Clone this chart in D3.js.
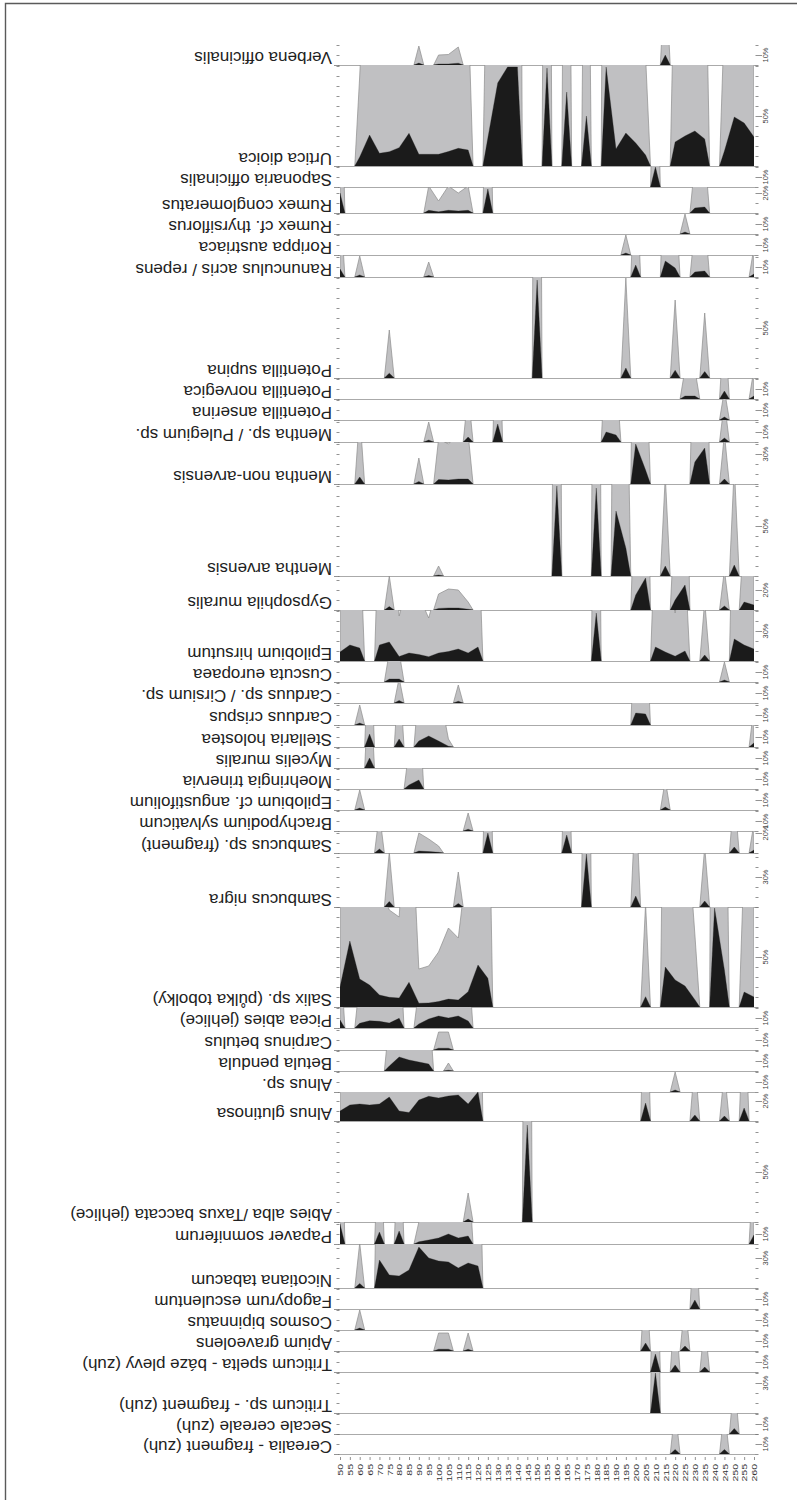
<!DOCTYPE html>
<html>
<head>
<meta charset="utf-8">
<script src="https://cdn.jsdelivr.net/npm/d3@7"></script>
<style>
  body { margin: 0; background: #fff; }
  svg { display: block; }
</style>
</head>
<body>
<svg id="chart" width="797" height="1500"></svg>
<script>
// Depth axis tick labels
const depthTicks = [50, 55, 60, 65, 70, 75, 80, 85, 90, 95, 100, 105, 110, 115, 120, 125,
  130, 135, 140, 145, 150, 155, 160, 165, 170, 175, 180, 185, 190, 195, 200, 205, 210,
  215, 220, 225, 230, 235, 240, 245, 250, 255, 260];

// Taxa, top to bottom
const taxa = [
  "Verbena officinalis", "Urtica dioica", "Saponaria officinalis", "Rumex conglomeratus",
  "Rumex cf. thyrsiflorus", "Rorippa austriaca", "Ranunculus acris / repens", "Potentilla supina",
  "Potentilla norvegica", "Potentilla anserina", "Mentha sp. / Pulegium sp.", "Mentha non-arvensis",
  "Mentha arvensis", "Gypsophila muralis", "Epilobium hirsutum", "Cuscuta europaea",
  "Carduus sp. / Cirsium sp.", "Carduus crispus", "Stellaria holostea", "Mycelis muralis",
  "Moehringia trinervia", "Epilobium cf. angustifolium", "Brachypodium sylvaticum",
  "Sambucus sp. (fragment)", "Sambucus nigra", "Salix sp. (půlka tobolky)", "Picea abies (jehlice)",
  "Carpinus betulus", "Betula pendula", "Alnus sp.", "Alnus glutinosa",
  "Abies alba /Taxus baccata (jehlice)", "Papaver somniferum", "Nicotiana tabacum",
  "Fagopyrum esculentum", "Cosmos bipinnatus", "Apium graveolens",
  "Triticum spelta - báze plevy (zuh)", "Triticum sp. - fragment (zuh)", "Secale cereale (zuh)",
  "Cerealia - fragment (zuh)"
];

// Percentage range of each taxon's column
const rangeMax = [20, 101, 21, 26, 21, 21, 22, 101, 21, 21, 22, 42, 92, 34, 51, 21, 21, 22, 22, 21,
  21, 21, 21, 22, 54, 100, 21, 22, 21, 21, 29, 101, 22, 44, 21, 21, 21, 21, 41, 21, 20];

// Labelled scale tick (%) of each column
const labelTick = [10, 50, 10, 20, 10, 10, 10, 50, 10, 10, 10, 30, 50, 20, 30, 10, 10, 10, 10, 10,
  10, 10, 10, 20, 30, 50, 10, 10, 10, 10, 20, 50, 10, 30, 10, 10, 10, 10, 30, 10, 10];

// Occurrences: [depth, percent]; depths not listed are zero
const verbena = [[90, 1.9], [100, 1.0], [105, 1.05], [110, 1.8], [215, 10]];
const urtica = [[60, 9], [65, 31], [70, 12.7], [75, 14.3], [80, 18.3], [85, 32.7], [90, 11.7],
  [95, 11.7], [100, 11.7], [105, 14.5], [110, 17.7], [115, 16], [125, 28], [130, 83], [135, 99],
  [140, 99], [155, 98], [165, 74], [175, 50], [185, 99], [190, 17], [195, 33], [200, 23], [205, 11],
  [220, 24], [225, 30], [230, 35], [235, 27], [245, 15], [250, 49], [255, 43], [260, 29]];
const saponaria = [[210, 20]];
const rumexConglomeratus = [[50, 20], [95, 2.7], [100, 1.2], [105, 2.7], [110, 2.0], [115, 2.7],
  [125, 24], [230, 5], [235, 6]];
const rumexThyrsiflorus = [[225, 2.0]];
const rorippa = [[195, 2.0]];
const ranunculus = [[50, 8], [60, 2.1], [95, 1.5], [200, 12], [215, 16], [220, 9], [230, 5],
  [235, 6], [260, 3]];
const potentillaSupina = [[75, 4.8], [150, 98], [195, 10], [220, 7.8], [235, 6.5]];
const potentillaNorvegica = [[225, 3], [230, 3], [245, 8], [260, 3]];
const potentillaAnserina = [[245, 3]];
const menthaPulegium = [[95, 2], [115, 5], [130, 18], [185, 10], [190, 7], [245, 4]];
const menthaNonArvensis = [[60, 7], [90, 2.6], [100, 4.5], [105, 4], [110, 5], [115, 5], [200, 40],
  [205, 14], [230, 22], [235, 36], [245, 5]];
const menthaArvensis = [[100, 1.0], [160, 90], [180, 88], [190, 65], [195, 28], [215, 10], [250, 11]];
const gypsophila = [[75, 3.4], [100, 1.6], [105, 2.1], [110, 2.0], [115, 0.8], [200, 15], [205, 32],
  [220, 10], [225, 25], [245, 4], [255, 8], [260, 5]];
const epilobiumHirsutum = [[50, 9], [55, 16], [60, 13], [70, 16], [75, 19], [80, 4.5], [85, 8],
  [90, 6.5], [95, 4.3], [100, 8], [105, 9.5], [110, 12], [115, 8], [120, 14], [180, 48], [210, 14],
  [215, 9], [220, 4.8], [225, 10], [235, 6], [250, 22], [255, 16], [260, 12]];
const cuscuta = [[75, 3], [80, 3], [245, 2]];
const carduusCirsium = [[80, 2.5], [110, 1.8]];
const carduusCrispus = [[60, 2], [200, 12], [205, 11]];
const stellaria = [[65, 13], [80, 8], [90, 6], [95, 11], [100, 6], [105, 0.8], [260, 4]];
const mycelis = [[65, 10]];
const moehringia = [[85, 4], [90, 9]];
const epilobiumAngustifolium = [[60, 2], [215, 3]];
const brachypodium = [[115, 1.8]];
const sambucusSp = [[70, 4], [90, 2.0], [95, 1.4], [100, 0.7], [125, 20], [165, 18], [250, 6], [260, 3]];
const sambucusNigra = [[75, 5.5], [110, 3.5], [175, 53], [200, 11], [235, 6]];
const salix = [[50, 20], [55, 66], [60, 28], [65, 22], [70, 12], [75, 9.7], [80, 9], [85, 24.7],
  [90, 3.8], [95, 4.1], [100, 5.5], [105, 7.9], [110, 6.9], [115, 15.3], [120, 42], [125, 28.7],
  [205, 10.3], [215, 40], [220, 27], [225, 21], [230, 7.3], [240, 99], [245, 37], [255, 15], [260, 10]];
const picea = [[50, 8], [60, 4.7], [65, 7.3], [70, 6.7], [75, 5], [80, 9.7], [90, 4], [95, 9],
  [100, 12], [105, 10], [110, 12], [115, 7]];
const carpinus = [[100, 1.8], [105, 1.8]];
const betula = [[75, 5], [80, 14], [85, 11], [90, 9], [95, 7], [105, 0.8]];
const alnusSp = [[220, 2.0]];
const alnusGlutinosa = [[50, 10], [55, 16], [60, 17], [65, 16], [70, 17], [75, 24], [80, 10],
  [85, 8.5], [90, 21], [95, 24.7], [100, 23], [105, 25], [110, 26], [115, 17], [120, 29], [205, 18],
  [230, 6], [245, 5], [255, 13]];
const abiesTaxus = [[115, 2.9], [145, 97]];
const papaver = [[50, 20], [70, 12], [80, 13], [90, 2.2], [95, 4], [100, 6], [105, 10], [110, 6],
  [115, 8], [260, 9]];
const nicotiana = [[60, 4.5], [70, 28], [75, 13], [80, 12], [85, 18], [90, 41], [95, 30], [100, 27],
  [105, 26], [110, 20], [115, 25], [120, 22]];
const fagopyrum = [[230, 9]];
const cosmos = [[60, 2]];
const apium = [[100, 1.8], [105, 1.8], [115, 1.8], [205, 8], [225, 5]];
const triticumSpelta = [[210, 18], [220, 7], [235, 5]];
const triticumSp = [[210, 40]];
const secale = [[250, 5.5]];
const cerealia = [[220, 4.5], [245, 4.5]];

const records = [verbena, urtica, saponaria, rumexConglomeratus, rumexThyrsiflorus, rorippa,
  ranunculus, potentillaSupina, potentillaNorvegica, potentillaAnserina, menthaPulegium,
  menthaNonArvensis, menthaArvensis, gypsophila, epilobiumHirsutum, cuscuta, carduusCirsium,
  carduusCrispus, stellaria, mycelis, moehringia, epilobiumAngustifolium, brachypodium, sambucusSp,
  sambucusNigra, salix, picea, carpinus, betula, alnusSp, alnusGlutinosa, abiesTaxus, papaver,
  nicotiana, fagopyrum, cosmos, apium, triticumSpelta, triticumSp, secale, cerealia];

// ---- layout ----
const TOP = 45;          // top of the first column
const PX_PER_PCT = 1;    // vertical pixels per percent
const EXAG = 10;         // exaggeration factor of the grey curve
const STEP = 5;          // sampling interval
const FONT = "'Liberation Sans', Arial, Helvetica, sans-serif";

const x = d3.scaleLinear().domain([50, 260]).range([340, 754]);
const svg = d3.select("#chart");
const defs = svg.append("defs");

// frame
svg.append("path")
  .attr("d", "M5.5,1500 V3.5 H797")
  .attr("fill", "none").attr("stroke", "#5a5a5a").attr("stroke-width", 1.4);

let cursor = TOP;
const bands = taxa.map((name, i) => {
  const top = cursor;
  cursor += rangeMax[i] * PX_PER_PCT;
  const bottom = cursor;
  const y = d3.scaleLinear().domain([0, rangeMax[i]]).range([bottom, top]);
  return { name, i, top, bottom, y, max: rangeMax[i], rec: records[i], tick: labelTick[i] };
});

// split occurrences into contiguous runs of samples
function runsOf(rec) {
  const out = [];
  let cur = null;
  rec.forEach(p => {
    if (cur && p[0] - cur[cur.length - 1][0] === STEP) cur.push(p);
    else { cur = [p]; out.push(cur); }
  });
  return out;
}

// outline of a run; the curve returns to zero half a step beyond its ends
function runPoints(run, factor) {
  const first = run[0][0], last = run[run.length - 1][0];
  const pts = [[first === 50 ? 50 : first - STEP / 2, 0]];
  run.forEach(([d, v]) => pts.push([d, v * factor]));
  pts.push([last === 260 ? 260 : last + STEP / 2, 0]);
  return pts;
}

const gLines = svg.append("g");
const gShapes = svg.append("g");
const gAxes = svg.append("g");

bands.forEach(b => {
  // baseline
  gLines.append("line")
    .attr("x1", 338).attr("x2", 756)
    .attr("y1", b.bottom + 0.5).attr("y2", b.bottom + 0.5)
    .attr("stroke", "#aaaaaa").attr("stroke-width", 1);

  const clipId = "clip" + b.i;
  defs.append("clipPath").attr("id", clipId)
    .append("rect")
    .attr("x", x(50)).attr("y", b.top)
    .attr("width", x(260) - x(50)).attr("height", b.bottom - b.top);

  const area = d3.area()
    .x(p => x(p[0]))
    .y0(b.bottom)
    .y1(p => b.y(p[1]));

  const g = gShapes.append("g").attr("clip-path", `url(#${clipId})`);
  const runs = runsOf(b.rec);

  // exaggerated curve
  g.selectAll("path.exag").data(runs).join("path")
    .attr("class", "exag")
    .attr("d", r => area(runPoints(r, EXAG)))
    .attr("fill", "#c0c0c2")
    .attr("stroke", "#8c8c8c")
    .attr("stroke-width", 0.7)
    .attr("stroke-linejoin", "round");

  // actual values
  g.selectAll("path.val").data(runs).join("path")
    .attr("class", "val")
    .attr("d", r => area(runPoints(r, 1)))
    .attr("fill", "#1b1b1b")
    .attr("stroke", "#1b1b1b")
    .attr("stroke-width", 0.3);

  // scale ticks every 10 %
  const ticks = d3.range(0, b.max + 0.01, 10);
  ticks.forEach(t => {
    const yy = Math.round(b.y(t)) + 0.5;
    gAxes.append("line")
      .attr("x1", t === 0 ? 334 : 336.5).attr("x2", 339.5)
      .attr("y1", yy).attr("y2", yy)
      .attr("stroke", "#777").attr("stroke-width", 0.8);
    gAxes.append("line")
      .attr("x1", 755.5).attr("x2", t === b.tick ? 762 : 758.5)
      .attr("y1", yy).attr("y2", yy)
      .attr("stroke", "#777").attr("stroke-width", 0.8);
  });

  // scale label
  gAxes.append("text")
    .attr("transform", `translate(768,${b.y(b.tick)}) rotate(-90)`)
    .attr("text-anchor", "middle")
    .attr("font-family", FONT)
    .attr("font-size", 7.5)
    .attr("fill", "#444")
    .text(b.tick + "%");

  // taxon name, upside down, ending at the column's baseline
  svg.append("text")
    .attr("transform", `translate(332,${b.bottom - 13.5}) rotate(180)`)
    .attr("text-anchor", "start")
    .attr("font-family", FONT)
    .attr("font-size", 17)
    .attr("fill", "#222")
    .text(b.name);
});

// depth axis
const last = bands[bands.length - 1];
const axis = svg.append("g")
  .attr("transform", `translate(0,${last.bottom + 3})`)
  .call(d3.axisBottom(x).tickValues(depthTicks).tickSize(3).tickFormat(d3.format("d")));
axis.select(".domain").remove();
axis.selectAll(".tick line").attr("stroke", "#777").attr("stroke-width", 0.8);
axis.selectAll(".tick text")
  .attr("transform", "rotate(-90) scale(1,0.75)")
  .attr("text-anchor", "end")
  .attr("x", -7)
  .attr("y", 0)
  .attr("dy", "0.35em")
  .attr("font-family", FONT)
  .attr("font-size", 10.5)
  .attr("fill", "#333");
</script>
</body>
</html>
